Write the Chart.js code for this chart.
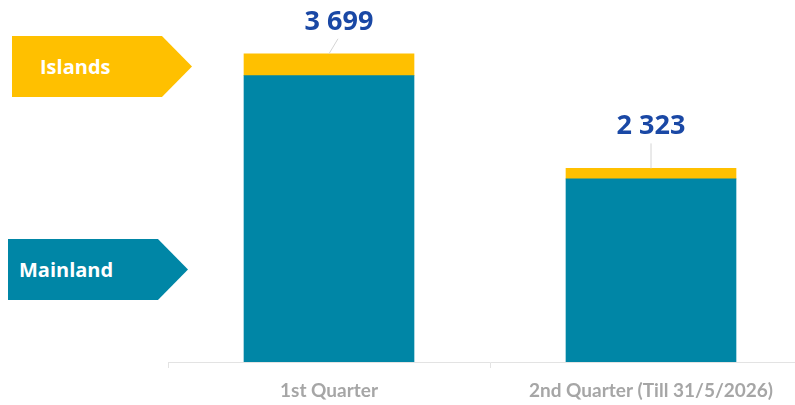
<!DOCTYPE html>
<html lang="en">
<head>
<meta charset="UTF-8">
<title>Mainland vs Islands</title>
<script src="https://cdn.jsdelivr.net/npm/chart.js@4"></script>
<style>
    html, body { margin: 0; padding: 0; background: #fff; overflow: hidden; }
    #wrap { position: relative; width: 795px; height: 405px; overflow: hidden; }
    #myChart { position: absolute; left: 0; top: 0; }
    .tag {
        position: absolute;
        width: 180px;
        height: 61px;
        box-sizing: border-box;
        display: flex;
        align-items: center;
        color: #fff;
        font: bold 20px 'Open Sans', sans-serif;
        clip-path: polygon(0 0, 83.3% 0, 100% 50%, 83.3% 100%, 0 100%);
    }
    #tagIslands { left: 12px; top: 36px; background: #FFC000; padding-left: 28px; }
    #tagMainland { left: 8px; top: 239px; background: #0086A6; padding-left: 11px; }
</style>
</head>
<body>
<div id="wrap">
    <!-- plot area runs past the right edge, like the original slide -->
    <canvas id="myChart" width="812" height="405"></canvas>
    <div class="tag" id="tagIslands">Islands</div>
    <div class="tag" id="tagMainland">Mainland</div>
</div>

<script>
// data
var categories = ['1st Quarter', '2nd Quarter (Till 31/5/2026)'];
var mainland = [3437, 2198];
var islands = [262, 125];

var totals = mainland.map((v, i) => v + islands[i]);

function fmt(n) {
    return String(n).replace(/\B(?=(\d{3})+(?!\d))/g, ' ');
}

// total labels with leader lines above each bar
var totalLabels = {
    id: 'totalLabels',
    afterDatasetsDraw(chart, args, opts) {
        var ctx = chart.ctx;
        var meta = chart.getDatasetMeta(1);
        meta.data.forEach(function (bar, i) {
            var s = opts.shift[i];
            ctx.save();
            ctx.strokeStyle = '#d4d4d4';
            ctx.lineWidth = 1;
            ctx.beginPath();
            ctx.moveTo(bar.x, bar.y);
            ctx.lineTo(bar.x + s.lx, bar.y + s.ly);
            ctx.stroke();
            ctx.fillStyle = '#1A48A5';
            ctx.font = 'bold 27px "Open Sans", sans-serif';
            ctx.textAlign = 'center';
            ctx.textBaseline = 'alphabetic';
            ctx.fillText(fmt(totals[i]), bar.x + s.dx, bar.y + s.dy);
            ctx.restore();
        });
    }
};

var ctx = document.getElementById('myChart').getContext('2d');
var myChart = new Chart(ctx, {
    type: 'bar',
    data: {
        labels: categories,
        datasets: [{
            label: 'Mainland',
            data: mainland,
            backgroundColor: '#0086A6',
            barThickness: 170
        }, {
            label: 'Islands',
            data: islands,
            backgroundColor: '#FFC000',
            barThickness: 170
        }]
    },
    options: {
        responsive: false,
        animation: false,
        layout: { padding: { left: 168, right: 0, top: 0, bottom: 0 } },
        plugins: {
            legend: { display: false },
            tooltip: { enabled: false },
            totalLabels: {
                shift: [
                    { dx: 10, dy: -24, lx: 9, ly: -15 },
                    { dx: 0, dy: -34, lx: 0, ly: -25 }
                ]
            }
        },
        scales: {
            x: {
                stacked: true,
                afterFit: function (scale) {
                    scale.height = 43;
                },
                border: { display: true, color: '#e3e3e3', width: 1 },
                grid: {
                    offset: true,
                    drawOnChartArea: false,
                    drawTicks: true,
                    tickLength: 6,
                    color: '#e3e3e3'
                },
                ticks: {
                    autoSkip: false,
                    maxRotation: 0,
                    padding: 11,
                    color: '#A6A6A6',
                    font: { family: 'Lato', size: 19, weight: 'bold' }
                }
            },
            y: {
                display: false,
                stacked: true,
                min: 0,
                max: 4344
            }
        }
    },
    plugins: [totalLabels]
});
</script>
</body>
</html>
